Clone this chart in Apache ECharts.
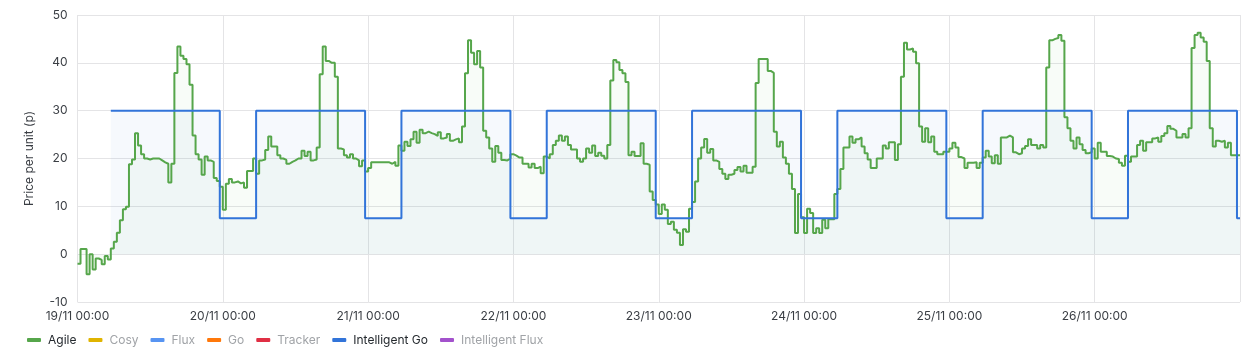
<!DOCTYPE html>
<html>
<head>
<meta charset="utf-8">
<script src="https://cdn.jsdelivr.net/npm/echarts@6/dist/echarts.min.js"></script>
<style>
html,body{margin:0;padding:0;background:#fff;}
#chart{width:1249px;height:360px;}
</style>
</head>
<body>
<div id="chart"></div>
<script>
// Tick labels (one per day; x is measured in half-hour slots from 19/11 00:00)
const dayLabels = ['19/11 00:00','20/11 00:00','21/11 00:00','22/11 00:00','23/11 00:00','24/11 00:00','25/11 00:00','26/11 00:00'];
const seriesNames = ['Agile','Cosy','Flux','Go','Tracker','Intelligent Go','Intelligent Flux'];
const seriesColors = ['#56a64b','#e0b400','#5794f2','#ff780a','#e02f44','#3274d9','#a352cc'];
const hiddenSeries = ['Cosy','Flux','Go','Tracker','Intelligent Flux'];

// Agile price, one value per half hour (19/11 00:00 .. 26/11 23:30)
const agile = [
-2.0,1.1,1.1,-4.2,0.0,-3.2,-0.9,-1.2,-2.1,-0.4,-1.1,1.2,2.6,4.5,7.1,9.4,9.9,18.8,19.8,25.3,
22.7,20.9,20.0,19.8,20.0,20.0,20.0,19.6,19.2,18.9,15.0,18.9,37.9,43.4,41.5,40.8,39.7,35.4,24.8,20.9,19.8,16.6,20.4,
19.6,19.3,15.9,15.3,14.1,9.3,14.7,15.7,15.0,15.2,14.8,15.0,13.9,17.4,17.4,20.0,
16.8,19.6,19.8,21.8,24.6,22.5,22.5,20.7,20.0,19.7,18.9,19.3,19.6,20.0,20.0,21.6,20.5,21.4,19.6,19.8,22.3,37.6,43.4,40.4,40.0,40.0,37.1,
22.1,21.9,20.7,20.2,20.9,20.0,19.6,18.4,19.6,17.3,18.0,19.2,19.2,19.2,19.2,19.2,19.2,18.9,19.3,18.5,22.7,21.6,23.5,22.6,24.0,25.6,23.3,26.0,25.3,25.6,25.3,25.1,24.7,25.5,24.2,24.4,25.1,23.7,24.0,24.2,23.4,26.7,37.8,
44.7,42.1,39.7,42.5,39.0,25.8,24.4,22.1,19.3,22.6,21.2,19.7,19.6,20.0,20.9,20.6,20.2,20.2,18.9,18.9,18.1,18.9,18.0,18.3,16.9,20.4,20.0,20.9,22.8,23.7,24.8,23.7,24.6,22.8,21.9,21.9,20.0,19.3,20.0,22.1,21.2,22.7,20.5,
21.2,20.6,20.0,22.8,36.3,40.6,40.1,38.5,37.8,36.0,20.7,21.4,20.5,20.5,23.2,18.9,18.7,13.1,11.3,10.4,8.4,10.4,9.3,6.3,6.8,5.1,4.5,1.9,5.2,4.7,9.5,10.9,15.2,20.0,22.3,24.1,21.2,22.0,19.6,19.3,17.8,16.8,15.7,
16.6,16.8,17.6,18.2,17.3,18.5,17.0,17.0,18.3,35.8,40.8,40.8,40.8,38.3,37.9,25.6,22.5,23.5,20.2,18.9,16.8,13.6,4.4,12.6,7.7,4.4,9.5,8.6,4.4,5.4,4.4,7.2,5.4,7.3,7.3,12.6,13.6,17.8,22.3,22.3,24.6,23.3,
24.0,24.4,22.5,21.1,19.8,18.0,18.0,20.0,20.0,22.7,22.1,23.4,23.4,19.7,23.0,37.1,44.2,42.8,43.0,42.3,39.9,26.7,23.5,26.3,23.4,24.6,21.4,20.9,20.9,21.4,21.4,22.1,23.3,22.3,20.3,20.0,18.0,19.1,19.1,19.2,18.0,19.1,20.2,
21.6,20.4,19.0,20.7,18.9,24.4,24.4,24.8,24.4,21.3,20.9,21.1,22.1,22.6,24.0,22.8,22.8,22.1,22.8,22.3,39.0,44.7,45.0,45.2,45.8,44.6,28.6,26.3,23.7,22.1,24.4,23.0,21.8,21.1,21.3,22.1,20.0,23.3,21.4,21.4,20.5,20.4,20.0,
19.9,19.1,18.5,20.6,19.3,20.4,20.4,22.8,23.7,21.6,23.4,23.4,24.2,24.4,23.5,24.7,25.3,26.8,26.2,25.8,24.4,24.4,25.1,24.4,26.3,43.1,45.8,46.3,45.3,44.4,40.4,26.3,22.5,23.7,23.5,23.7,22.3,23.3,20.7,20.7,20.7
];

// Intelligent Go: [half-hour slot, price] at each rate change
const intelligentGo = [
[11,30],[47,7.5],[59,30],[95,7.5],[107,30],[143,7.5],[155,30],[191,7.5],[203,30],
[239,7.5],[251,30],[287,7.5],[299,30],[335,7.5],[347,30],[383,7.5],[384,7.5]
];

const slotsPerDay = 48;
const totalSlots = 384;

const agileData = agile.map((v, i) => [i, v]);
agileData.push([agile.length, agile[agile.length - 1]]);

const chart = echarts.init(document.getElementById('chart'), null, {renderer: 'canvas'});
const font = 'Inter, "Noto Sans", sans-serif';

const series = seriesNames.map((name, k) => {
  const base = {
    name: name,
    type: 'line',
    step: 'end',
    symbol: 'none',
    color: seriesColors[k],
    lineStyle: {width: 2, color: seriesColors[k]},
    data: []
  };
  if (name === 'Agile') {
    base.data = agileData;
    base.areaStyle = {color: seriesColors[k], opacity: 0.04};
  } else if (name === 'Intelligent Go') {
    base.data = intelligentGo;
    base.areaStyle = {color: seriesColors[k], opacity: 0.045};
  }
  return base;
});

chart.setOption({
  animation: false,
  textStyle: {fontFamily: font},
  grid: {left: 77.5, right: 9, top: 15, bottom: 58, containLabel: false},
  xAxis: {
    type: 'value',
    min: 0,
    max: totalSlots,
    interval: slotsPerDay,
    axisLine: {show: false},
    axisTick: {show: false},
    splitLine: {show: true, lineStyle: {color: '#e4e4e6', width: 1}},
    axisLabel: {
      color: '#3a3e44', fontSize: 12, fontFamily: font, margin: 8,
      formatter: v => dayLabels[Math.round(v / slotsPerDay)] || ''
    }
  },
  yAxis: {
    type: 'value',
    min: -10,
    max: 50,
    interval: 10,
    name: 'Price per unit (p)',
    nameLocation: 'middle',
    nameGap: 42,
    nameTextStyle: {color: '#3a3e44', fontSize: 12, fontFamily: font},
    axisLine: {show: false},
    axisTick: {show: false},
    splitLine: {show: true, lineStyle: {color: '#e4e4e6', width: 1}},
    axisLabel: {color: '#3a3e44', fontSize: 12, fontFamily: font, margin: 10}
  },
  legend: {
    left: 22,
    top: 329,
    icon: 'roundRect',
    itemWidth: 14,
    itemHeight: 4,
    itemGap: 12,
    selectedMode: false,
    textStyle: {fontSize: 12, fontFamily: font, color: '#24292e', padding: [0, 0, 0, 2]},
    data: seriesNames.map(n => ({
      name: n,
      textStyle: {color: hiddenSeries.includes(n) ? '#a0a3a7' : '#24292e'}
    }))
  },
  series: series
});
</script>
</body>
</html>
